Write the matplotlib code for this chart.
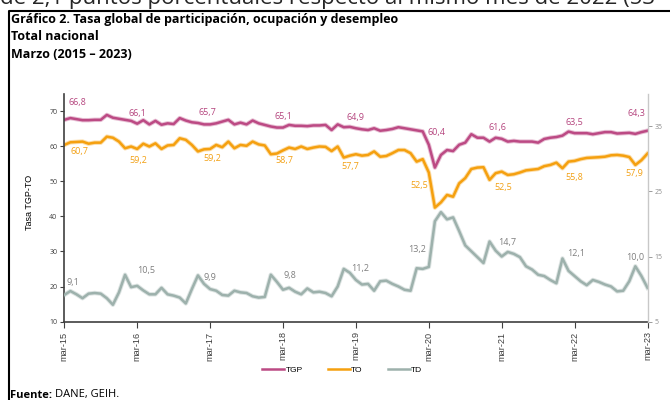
import matplotlib.pyplot as plt
import matplotlib.patheffects as pe
from matplotlib.lines import Line2D
import numpy as np

# Series mensuales, marzo 2015 - marzo 2023 (97 meses)
tgp = [67.5, 68.0, 67.7, 67.4, 67.4, 67.5, 67.5, 68.9, 68.1, 67.8,
       67.5, 67.2, 66.4, 67.4, 66.2, 67.2, 66.1, 66.5, 66.3, 68.0,
       67.3, 66.8, 66.6, 66.2, 66.2,
       66.5, 67.0, 67.5, 66.2, 66.7, 66.2, 67.3, 66.5, 66.05, 65.6,
       65.3, 65.3, 66.05, 65.8, 65.8, 65.7, 65.9, 65.9, 66.05, 64.6,
       66.2, 65.4, 65.5, 65.1,
       64.8, 64.6, 65.1, 64.4, 64.6, 64.9, 65.4, 65.1, 64.8, 64.5,
       64.2, 60.4, 53.9, 57.5, 58.9, 58.6, 60.4, 61.0, 63.4, 62.4,
       62.4, 61.3, 62.4, 62.1,
       61.3, 61.5, 61.3, 61.3, 61.3, 61.0, 62.05, 62.4, 62.6, 63.0,
       64.15, 63.7, 63.7, 63.7, 63.4, 63.7, 64.0, 64.0, 63.6, 63.7,
       63.8, 63.5, 64.0, 64.4]

to = [60.35, 61.1, 61.2, 61.3, 60.7, 61.0, 61.0, 62.7, 62.4, 61.3,
      59.4, 59.9, 59.2, 60.7, 59.9, 60.8, 59.2, 60.2, 60.35, 62.25,
      61.8, 60.35, 58.5, 59.1, 59.2,
      60.35, 59.7, 61.3, 59.4, 60.35, 60.1, 61.3, 60.5, 60.2, 57.7,
      57.9, 58.8, 59.6, 59.2, 59.9, 59.2, 59.6, 59.9, 59.8, 58.6,
      59.9, 56.75, 57.3, 57.7,
      57.3, 57.5, 58.5, 57.0, 57.2, 58.0, 58.9, 58.9, 58.0, 55.6,
      56.3, 52.5, 42.5, 44.0, 46.1, 45.6, 49.4, 50.9, 53.5, 53.9,
      54.0, 50.4, 52.3, 52.75,
      51.8, 52.0, 52.5, 53.1, 53.3, 53.5, 54.3, 54.65, 55.3, 53.7,
      55.6, 55.8, 56.3, 56.65, 56.75, 56.85, 57.0, 57.4, 57.5, 57.3,
      56.9, 54.65, 56.0, 57.9]

td = [9.1, 9.7, 9.2, 8.6, 9.3, 9.4, 9.3, 8.6, 7.6, 9.5,
      12.2, 10.3, 10.5, 9.8, 9.2, 9.2, 10.2, 9.2, 9.0, 8.7,
      7.8, 10.0, 12.1, 10.8, 10.0,
      9.75, 9.1, 9.0, 9.75, 9.5, 9.4, 8.9, 8.7, 8.8, 12.2,
      11.1, 9.9, 10.2, 9.6, 9.2, 10.1, 9.5, 9.6, 9.4, 8.9,
      10.4, 13.1, 12.5, 11.4,
      10.7, 10.8, 9.75, 11.2, 11.3, 10.8, 10.4, 9.9, 9.75, 13.2,
      13.1, 13.4, 20.4, 21.8, 20.7, 21.0, 18.9, 16.7, 15.8, 14.9,
      14.0, 17.3, 15.9, 15.0,
      15.7, 15.4, 14.9, 13.5, 13.0, 12.2, 12.0, 11.4, 10.9, 14.7,
      12.8, 12.0, 11.2, 10.6, 11.4, 11.1, 10.7, 10.4, 9.65, 9.75,
      11.2, 13.5, 12.0, 10.2]

anios = ["mar-15", "mar-16", "mar-17", "mar-18", "mar-19",
         "mar-20", "mar-21", "mar-22", "mar-23"]

# Valores de marzo que se rotulan
etq_tgp = [66.8, 66.1, 65.7, 65.1, 64.9, 60.4, 61.6, 63.5, 64.3]
etq_to = [60.7, 59.2, 59.2, 58.7, 57.7, 52.5, 52.5, 55.8, 57.9]
etq_td = [9.1, 10.5, 9.9, 9.8, 11.2, 13.2, 14.7, 12.1, 10.0]

# desplazamiento de cada rotulo en pixeles (dx, dy hacia abajo)
desp_tgp = [(13, -17), (0, -10), (-3, -12), (0, -11), (0, -11), (8, -12), (-4, -11), (0, -11), (-11, -17)]
desp_to = [(15, 7), (1, 12), (2, 10), (1, 10), (-6, 12), (-10, 13), (2, 16), (0, 17), (-13, 20)]
desp_td = [(9, -12), (9, -15), (0, -12), (7, -14), (4, -11), (-12, -17), (5, -14), (2, -23), (-12, -30)]

c_tgp = "#BC4A84"
c_to = "#F5A00F"
c_td = "#9DB1AC"

plt.rcParams['font.family'] = ['Open Sans', 'DejaVu Sans']

W, H = 670, 400
fig = plt.figure(figsize=(6.7, 4.0), dpi=100)
ax = fig.add_axes([64.3 / W, 1 - 321.7 / H, (647.5 - 64.3) / W, (321.7 - 93.5) / H])
ax2 = ax.twinx()

meses = np.arange(len(tgp))
halo = lambda c: [pe.Stroke(linewidth=3.2, foreground=c, alpha=0.35), pe.Normal()]
ax.plot(meses, tgp, color=c_tgp, lw=1.8, solid_joinstyle="round", path_effects=halo(c_tgp))
ax.plot(meses, to, color=c_to, lw=1.8, solid_joinstyle="round", path_effects=halo(c_to))
ax2.plot(meses, td, color=c_td, lw=1.8, solid_joinstyle="round", path_effects=halo(c_td))

ax.set_xlim(0, 96)
ax.set_ylim(10, 75)
ax2.set_ylim(5, 40)

# Rotulos de marzo
marzos = np.arange(0, 97, 12)
for k, m in enumerate(marzos):
    for serie, etq, desp, c, eje in [(tgp, etq_tgp, desp_tgp, "#B5457E", ax),
                                     (to, etq_to, desp_to, "#F2A013", ax),
                                     (td, etq_td, desp_td, "#7F7F7F", ax2)]:
        eje.annotate(f"{etq[k]:.1f}".replace(".", ","), xy=(m, serie[m]),
                     xytext=(desp[k][0], -desp[k][1]), textcoords="offset pixels",
                     ha="center", va="center", fontsize=6.5, color=c)

# Ejes
ax.set_xticks(marzos)
ax.set_xticklabels(anios, rotation=90, fontsize=6.6, color="#404040", family="Liberation Sans")
ax.set_yticks(np.arange(10, 71, 10))
ax.tick_params(axis="y", labelsize=5, colors="#404040", length=3, width=0.8, pad=2)
ax.tick_params(axis="x", length=4, width=0.8, pad=3, colors="#404040")
for s in ["top", "right"]:
    ax.spines[s].set_visible(False)
for s in ["left", "bottom"]:
    ax.spines[s].set_color("#404040")
    ax.spines[s].set_linewidth(1.2)

ax2.set_yticks([5, 15, 25, 35])
ax2.tick_params(axis="y", labelsize=5, colors="#8C8C8C", length=3, width=0.6, pad=2)
for s in ["top", "left", "bottom"]:
    ax2.spines[s].set_visible(False)
ax2.spines["right"].set_color("#C8C8C8")
ax2.spines["right"].set_linewidth(1.0)

fig.text(29.5 / W, 1 - 202 / H, "Tasa TGP-TO", rotation=90, ha="center", va="center",
         fontsize=6.5, family="Liberation Sans")

# Leyenda
manejadores = [Line2D([], [], color=c_tgp, lw=1.8),
               Line2D([], [], color=c_to, lw=1.8),
               Line2D([], [], color=c_td, lw=1.8)]
leg = fig.legend(manejadores, ["TGP", "TO", "TD"], loc="center", bbox_to_anchor=(0.511, 0.075),
                 ncol=3, frameon=False, handlelength=2.6, handletextpad=0.2, columnspacing=3.0,
                 prop={"family": "Liberation Sans", "size": 6})

# Textos del documento
fig.text(0.0, 1 - 4 / H, "de 2,1 puntos porcentuales respecto al mismo mes de 2022 (53",
         fontsize=16, va="baseline", color="#262626")
fig.add_artist(Line2D([8.5 / W, 8.5 / W, 1], [0, 1 - 11 / H, 1 - 11 / H], color="black", lw=1.5))
fig.text(11 / W, 1 - 19 / H, "Gráfico 2. Tasa global de participación, ocupación y desempleo",
         fontsize=9, fontweight="bold", va="center")
fig.text(11 / W, 1 - 37 / H, "Total nacional", fontsize=9, fontweight="bold", va="center")
fig.text(11 / W, 1 - 55 / H, "Marzo (2015 – 2023)", fontsize=9, fontweight="bold", va="center")
fig.text(10 / W, 1 - 395 / H, "Fuente:", fontsize=8, fontweight="bold", va="center")
fig.text(55 / W, 1 - 395 / H, "DANE, GEIH.", fontsize=8, va="center")

fig.savefig("out.png", dpi=100)
